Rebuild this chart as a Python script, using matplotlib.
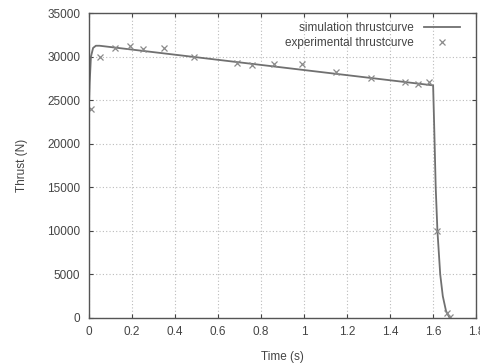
import matplotlib
matplotlib.use('Agg')
import matplotlib.pyplot as plt

plt.rcParams['font.family'] = ['Liberation Sans', 'DejaVu Sans']

# simulation thrust curve
sim_t = [0.0, 0.004, 0.01, 0.02, 0.033, 0.05, 1.60, 1.605, 1.612, 1.62, 1.633, 1.645, 1.66, 1.675]
sim_f = [23800, 27000, 30000, 31000, 31250, 31250, 26700, 22000, 15000, 10000, 5000, 2500, 800, 100]

# experimental points
exp_t = [0.01, 0.05, 0.12, 0.19, 0.25, 0.35, 0.49, 0.69, 0.76, 0.86, 0.99, 1.15, 1.31, 1.47, 1.53, 1.58, 1.62, 1.665, 1.68]
exp_f = [24000, 30000, 31000, 31200, 30870, 31000, 30000, 29300, 29000, 29150, 29100, 28200, 27550, 27050, 26900, 27050, 10000, 570, 100]

xticks = [0, 0.2, 0.4, 0.6, 0.8, 1, 1.2, 1.4, 1.6, 1.8]
yticks = list(range(0, 35001, 5000))

fig = plt.figure(figsize=(4.8, 3.63), dpi=100)
ax = fig.add_axes([0.185, 0.124, 0.807, 0.840])

ax.plot(sim_t, sim_f, color='#707070', lw=1.3, label='simulation thrustcurve')
ax.plot(exp_t, exp_f, ls='none', marker='x', ms=4, mew=0.9, color='#8a8a8a',
        label='experimental thrustcurve')

ax.set_xlim(0, 1.8)
ax.set_ylim(0, 35000)
ax.set_xticks(xticks)
ax.set_xticklabels([('%g' % v) for v in xticks])
ax.set_yticks(yticks)
ax.grid(True, ls=(0, (1, 2)), color='#bbbbbb', lw=0.8)
ax.tick_params(direction='in', length=3, labelsize=8.5, colors='#444444',
               top=True, right=True, pad=6)
for s in ax.spines.values():
    s.set_color('#555555')
    s.set_linewidth(1.0)

ax.set_xlabel('Time (s)', fontsize=8.5, color='#444444', labelpad=9)
ax.set_ylabel('Thrust (N)', fontsize=8.5, color='#444444', labelpad=14)

leg = ax.legend(loc='upper right', bbox_to_anchor=(0.97, 0.985), frameon=False,
                markerfirst=False, fontsize=8.5, handlelength=3.0,
                handletextpad=0.9, borderaxespad=0.0, labelspacing=0.25)
for t in leg.get_texts():
    t.set_color('#444444')

fig.savefig('out.png', dpi=100)
